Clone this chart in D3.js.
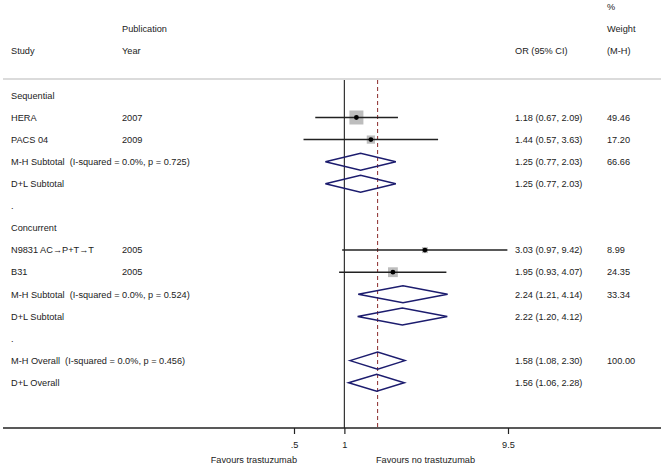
<!DOCTYPE html>
<html><head><meta charset="utf-8">
<script src="https://cdn.jsdelivr.net/npm/d3@7"></script>
<style>body{margin:0;background:#fff}svg{display:block}text{font-family:"Liberation Sans",Arial,sans-serif;font-size:9.2px;fill:#222;white-space:pre}</style>
</head><body>
<script>
// Data
const studyLabels = ["HERA","PACS 04","N9831 AC\u2192P+T\u2192T","B31"];
const studyYears = ["2007","2009","2005","2005"];
const studyRows = [5,6,11,12];
const studyOR = [1.18,1.44,3.03,1.95];
const studyLo = [0.67,0.57,0.97,0.93];
const studyHi = [2.09,3.63,9.42,4.07];
const studyWeight = [49.46,17.20,8.99,24.35];

const poolLabels = ["M-H Subtotal  (I-squared = 0.0%, p = 0.725)","D+L Subtotal","M-H Subtotal  (I-squared = 0.0%, p = 0.524)","D+L Subtotal","M-H Overall  (I-squared = 0.0%, p = 0.456)","D+L Overall"];
const poolRows = [7,8,13,14,16,17];
const poolOR = [1.25,1.25,2.24,2.22,1.58,1.56];
const poolLo = [0.77,0.77,1.21,1.20,1.08,1.06];
const poolHi = [2.03,2.03,4.14,4.12,2.30,2.28];
const poolWeight = ["66.66","","33.34","","100.00",""];

const groupLabels = ["Sequential",".","Concurrent","."];
const groupRows = [4,9,10,15];

const tickValues = [0.5,1,9.5];
const tickLabels = [".5","1","9.5"];
const overallOR = 1.58;

const W=661,H=467;
const svg=d3.select("body").append("svg").attr("width",W).attr("height",H);
const x=d3.scaleLog().domain([0.5,9.5]).range([294,508]);
const y=k=>7+22.1*k;
const fmt=d3.format(".2f");
const xStudy=11,xYear=122,xOR=515,xW=607;
const topY=79,axisY=428;

// header
const hdr=[["Publication",xYear,1],["Study",xStudy,2],["Year",xYear,2],["OR (95% CI)",xOR,2],["%",xW,0],["Weight",xW,1],["(M-H)",xW,2]];
svg.selectAll("text.h").data(hdr).join("text").attr("x",d=>d[1]).attr("y",d=>y(d[2])).attr("dy","0.35em").text(d=>d[0]);
svg.append("line").attr("x1",3).attr("x2",W).attr("y1",topY).attr("y2",topY).attr("stroke","#cfcfcf").attr("stroke-width",1.5);

// reference lines
svg.append("line").attr("x1",x(1)).attr("x2",x(1)).attr("y1",topY+1).attr("y2",axisY).attr("stroke","#333").attr("stroke-width",1.2);
svg.append("line").attr("x1",x(overallOR)).attr("x2",x(overallOR)).attr("y1",topY+1).attr("y2",axisY).attr("stroke","#8b2a2a").attr("stroke-width",1).attr("stroke-dasharray","4,3");

// groups
groupLabels.forEach((g,i)=>svg.append("text").attr("x",xStudy).attr("y",y(groupRows[i])).attr("dy","0.35em").text(g));

// studies
const sz=d3.scaleSqrt().domain([0,49.46]).range([0,14]);
studyLabels.forEach((s,i)=>{
  const yy=y(studyRows[i]);
  svg.append("text").attr("x",xStudy).attr("y",yy).attr("dy","0.35em").text(s);
  svg.append("text").attr("x",xYear).attr("y",yy).attr("dy","0.35em").text(studyYears[i]);
  const s2=sz(studyWeight[i]);
  svg.append("rect").attr("x",x(studyOR[i])-s2/2).attr("y",yy-s2/2).attr("width",s2).attr("height",s2).attr("fill","#bdbdbd");
  svg.append("line").attr("x1",x(studyLo[i])).attr("x2",x(studyHi[i])).attr("y1",yy).attr("y2",yy).attr("stroke","#222").attr("stroke-width",1.5);
  svg.append("circle").attr("cx",x(studyOR[i])).attr("cy",yy).attr("r",2.4).attr("fill","#000");
  svg.append("text").attr("x",xOR).attr("y",yy).attr("dy","0.35em").text(`${fmt(studyOR[i])} (${fmt(studyLo[i])}, ${fmt(studyHi[i])})`);
  svg.append("text").attr("x",xW).attr("y",yy).attr("dy","0.35em").text(fmt(studyWeight[i]));
});

// pooled
poolLabels.forEach((s,i)=>{
  const yy=y(poolRows[i]);
  svg.append("text").attr("x",xStudy).attr("y",yy).attr("dy","0.35em").text(s);
  const h=8.5;
  const pts=[[x(poolLo[i]),yy],[x(poolOR[i]),yy-h],[x(poolHi[i]),yy],[x(poolOR[i]),yy+h]];
  svg.append("path").attr("d","M"+pts.join("L")+"Z").attr("fill","none").attr("stroke","#1c1c6e").attr("stroke-width",1.5);
  svg.append("text").attr("x",xOR).attr("y",yy).attr("dy","0.35em").text(`${fmt(poolOR[i])} (${fmt(poolLo[i])}, ${fmt(poolHi[i])})`);
  svg.append("text").attr("x",xW).attr("y",yy).attr("dy","0.35em").text(poolWeight[i]);
});

// axis
svg.append("line").attr("x1",3).attr("x2",W).attr("y1",axisY).attr("y2",axisY).attr("stroke","#222").attr("stroke-width",1.3);
const ax=svg.append("g").attr("transform",`translate(0,${axisY})`)
  .call(d3.axisBottom(x).tickValues(tickValues).tickFormat((d,i)=>tickLabels[i]).tickSize(6).tickPadding(7));
ax.select(".domain").remove();
ax.selectAll(".tick line").attr("stroke","#222").attr("stroke-width",1.2);
ax.selectAll(".tick text").style("font-family","Liberation Sans, Arial, sans-serif").style("font-size","9.2px").attr("fill","#222");
svg.append("text").attr("x",297).attr("y",460).attr("dy","0.35em").attr("text-anchor","end").text("Favours trastuzumab");
svg.append("text").attr("x",376).attr("y",460).attr("dy","0.35em").text("Favours no trastuzumab");
</script>
</body></html>
